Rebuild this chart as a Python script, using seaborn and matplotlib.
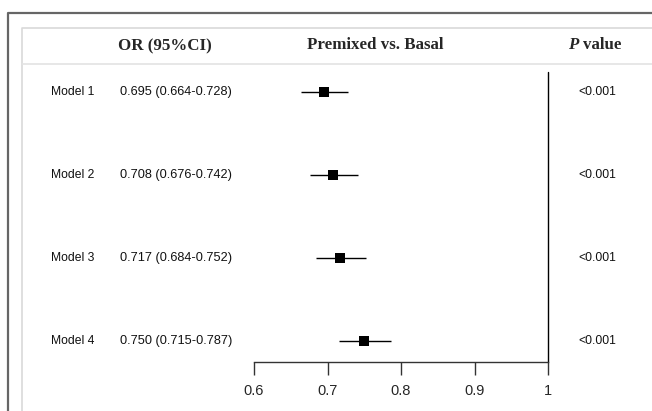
import matplotlib
matplotlib.use('Agg')
import matplotlib.pyplot as plt
import matplotlib.transforms as mtransforms
from matplotlib.lines import Line2D
import seaborn as sns
import pandas as pd

# 数据
models = ['Model 1', 'Model 2', 'Model 3', 'Model 4']
or_est = [0.695, 0.708, 0.717, 0.750]
ci_low = [0.664, 0.676, 0.684, 0.715]
ci_high = [0.728, 0.742, 0.752, 0.787]
or_text = ['0.695 (0.664-0.728)', '0.708 (0.676-0.742)',
           '0.717 (0.684-0.752)', '0.750 (0.715-0.787)']
p_text = ['<0.001', '<0.001', '<0.001', '<0.001']
xticks = [0.6, 0.7, 0.8, 0.9, 1]
xticklabels = ['0.6', '0.7', '0.8', '0.9', '1']

df = pd.DataFrame({'model': models, 'OR': or_est, 'low': ci_low, 'high': ci_high,
                   'row': range(1, len(models) + 1)})

sns.set_style('white')
plt.rcParams['font.family'] = ['Liberation Sans', 'DejaVu Sans']

W, H = 652, 411
fig = plt.figure(figsize=(W / 100, H / 100), dpi=100)

def fx(px):
    return px / W

def fy(py):
    return 1 - py / H

# 外框
fig.add_artist(Line2D([fx(8), fx(8), fx(652)], [fy(411), fy(13), fy(13)],
                      transform=fig.transFigure, color='#666666', lw=1.6))
fig.add_artist(Line2D([fx(22), fx(22), fx(652)], [fy(411), fy(28), fy(28)],
                      transform=fig.transFigure, color='#d9d9d9', lw=1.2))
fig.add_artist(Line2D([fx(22), fx(652)], [fy(64), fy(64)],
                      transform=fig.transFigure, color='#e3e3e3', lw=1.2))

# 森林图区域
x0, x1 = 254, 548
y0, y1 = 72, 362
ax = fig.add_axes([fx(x0), fy(y1), fx(x1 - x0), (y1 - y0) / H])
ax.patch.set_alpha(0)

ax.hlines(df['row'], df['low'], df['high'], color='black', lw=1)
sns.scatterplot(data=df, x='OR', y='row', marker='s', s=55, color='black',
                edgecolor='black', linewidth=0, ax=ax, legend=False, zorder=3)
ax.axvline(1, color='black', lw=1, clip_on=False)

ax.set_xlim(0.6, 1)
ax.set_ylim(4 + 21 / 83, 1 - 20 / 83)
ax.set_xticks(xticks)
ax.set_xticklabels(xticklabels, fontsize=10.5)
ax.set_yticks([])
ax.set_xlabel('')
ax.set_ylabel('')
for side in ['top', 'right', 'left']:
    ax.spines[side].set_visible(False)
ax.spines['bottom'].set_color('#333333')
ax.spines['bottom'].set_linewidth(1)
ax.tick_params(axis='x', direction='out', length=9, width=1, color='#333333',
               pad=7, bottom=True)

# 文本列
trans = mtransforms.blended_transform_factory(fig.transFigure, ax.transData)
for i, r in enumerate(df['row']):
    ax.text(fx(51), r, models[i], transform=trans, fontsize=8.7, va='center',
            ha='left', clip_on=False, color='#111111')
    ax.text(fx(120), r, or_text[i], transform=trans, fontsize=9.2, va='center',
            ha='left', clip_on=False, color='#111111')
    ax.text(fx(597), r, p_text[i], transform=trans, fontsize=8.7, va='center',
            ha='center', clip_on=False, color='#111111')

# 表头
serif = ['Liberation Serif', 'DejaVu Serif']
hdr = dict(family=serif, fontweight='bold', fontsize=12.2, va='center')
fig.text(fx(164.5), fy(46), 'OR (95%CI)', ha='center', **hdr)
fig.text(fx(375.5), fy(45), 'Premixed vs. Basal', ha='center', **hdr)
fig.text(fx(578), fy(45), 'P', ha='right', style='italic', **hdr)
fig.text(fx(583), fy(45), 'value', ha='left', **hdr)

plt.savefig('out.png', dpi=100)
